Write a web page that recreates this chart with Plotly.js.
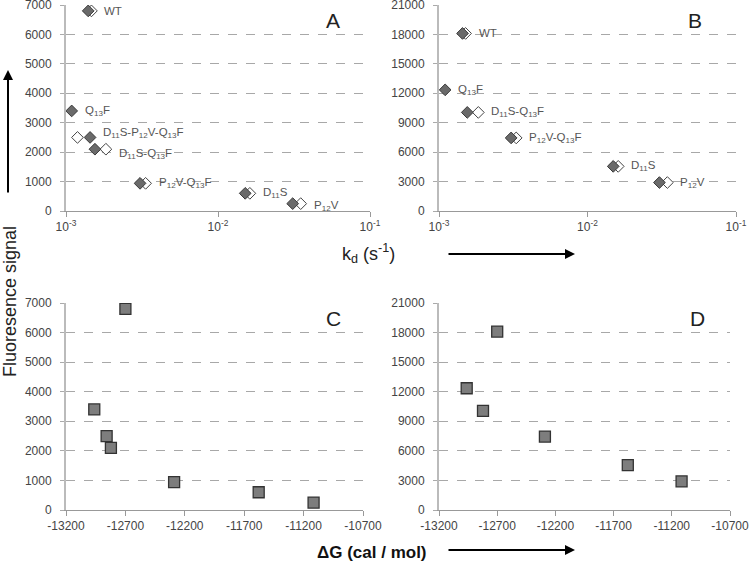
<!DOCTYPE html>
<html>
<head>
<meta charset="utf-8">
<script src="https://cdn.plot.ly/plotly-3.0.1.min.js"></script>
<style>html,body{margin:0;padding:0;background:#fff;}#chart{width:750px;height:564px;}</style>
</head>
<body>
<div id="chart"></div>
<script>
// ---- data ----
const mutants = ['WT', 'Q<sub>13</sub>F', 'D<sub>11</sub>S-P<sub>12</sub>V-Q<sub>13</sub>F', 'D<sub>11</sub>S-Q<sub>13</sub>F', 'P<sub>12</sub>V-Q<sub>13</sub>F', 'D<sub>11</sub>S', 'P<sub>12</sub>V'];
const signalA = [6800, 3400, 2500, 2100, 940, 600, 250];
const signalB = [18100, 12350, null, 10050, 7450, 4550, 2900];
const kdFilledA = [1.40e-3, 1.09e-3, 1.44e-3, 1.55e-3, 3.07e-3, 1.51e-2, 3.10e-2];
const kdOpenA   = [1.47e-3, null,    1.19e-3, 1.83e-3, 3.34e-3, 1.62e-2, 3.50e-2];
const kdFilledB = [1.44e-3, 1.10e-3, null,    1.55e-3, 3.06e-3, 1.49e-2, 3.05e-2];
const kdOpenB   = [1.51e-3, null,    null,    1.84e-3, 3.31e-3, 1.61e-2, 3.45e-2];
const deltaG    = [-12700, -12962, -12858, -12822, -12290, -11578, -11116];
const kdTicks = [0.001, 0.01, 0.1];
const kdTickText = ['10<sup>-3</sup>', '10<sup>-2</sup>', '10<sup>-1</sup>'];
const dGTicks = [-13200, -12700, -12200, -11700, -11200, -10700];
const sigTicksA = [0, 1000, 2000, 3000, 4000, 5000, 6000, 7000];
const sigTicksB = [0, 3000, 6000, 9000, 12000, 15000, 18000, 21000];

// ---- styles / label nudges (pixels) ----
const labelYShiftA = [0, 0, 4, -5, 0, 0, -2];
const FONT = 'Liberation Sans, Arial, sans-serif';
const filledDiamond = {symbol: 'diamond', size: 9, color: '#6a6a6a', line: {color: '#3a3a3a', width: 1}};
const openDiamond = {symbol: 'diamond', size: 9, color: '#ffffff', line: {color: '#444', width: 1}};
const squareMk = {symbol: 'square', size: 11, color: '#7d7d7d', line: {color: '#333', width: 1.3}};

function pts(xs, ys) {
  const x = [], y = [];
  xs.forEach((v, i) => { if (v != null && ys[i] != null) { x.push(v); y.push(ys[i]); } });
  return {x, y};
}

const traces = [];
function addKd(filled, open, sig, xa, ya) {
  const o = pts(open, sig), f = pts(filled, sig);
  traces.push({type: 'scatter', mode: 'markers', x: o.x, y: o.y, xaxis: xa, yaxis: ya, marker: openDiamond, hoverinfo: 'skip'});
  traces.push({type: 'scatter', mode: 'markers', x: f.x, y: f.y, xaxis: xa, yaxis: ya, marker: filledDiamond, hoverinfo: 'skip'});
}
addKd(kdFilledA, kdOpenA, signalA, 'x', 'y');
addKd(kdFilledB, kdOpenB, signalB, 'x2', 'y2');
const c = pts(deltaG, signalA), d = pts(deltaG, signalB);
traces.push({type: 'scatter', mode: 'markers', x: c.x, y: c.y, xaxis: 'x3', yaxis: 'y3', marker: squareMk, hoverinfo: 'skip'});
traces.push({type: 'scatter', mode: 'markers', x: d.x, y: d.y, xaxis: 'x4', yaxis: 'y4', marker: squareMk, hoverinfo: 'skip'});

const annotations = [];
function addLabels(filled, open, sig, xr, yr, yshifts) {
  mutants.forEach((m, i) => {
    if (sig[i] == null) return;
    const xs = [filled[i], open[i]].filter(v => v != null);
    if (!xs.length) return;
    annotations.push({xref: xr, yref: yr, x: Math.log10(Math.max(...xs)), y: sig[i], text: m,
      showarrow: false, xanchor: 'left', yanchor: 'middle', xshift: 11, yshift: yshifts ? yshifts[i] : 0,
      font: {family: FONT, size: 11.5, color: '#555'}});
  });
}
addLabels(kdFilledA, kdOpenA, signalA, 'x', 'y', labelYShiftA);
addLabels(kdFilledB, kdOpenB, signalB, 'x2', 'y2', null);

const letterFont = {family: FONT, size: 21, color: '#222'};
[['A', 333, 20], ['B', 695, 20], ['C', 333, 318], ['D', 697, 318]].forEach(([t, px, py]) => {
  annotations.push({xref: 'paper', yref: 'paper', x: px / 750, y: 1 - py / 564, text: t, showarrow: false,
    xanchor: 'center', yanchor: 'middle', font: letterFont});
});
annotations.push({xref: 'paper', yref: 'paper', x: 368 / 750, y: 1 - 253 / 564, text: 'k<sub>d</sub> (s<sup>-1</sup>)',
  showarrow: false, xanchor: 'center', yanchor: 'middle', font: {family: FONT, size: 18, color: '#222'}});
annotations.push({xref: 'paper', yref: 'paper', x: 372 / 750, y: 1 - 552 / 564, text: '<b>ΔG (cal / mol)</b>',
  showarrow: false, xanchor: 'center', yanchor: 'middle', font: {family: FONT, size: 17, color: '#111'}});
annotations.push({xref: 'paper', yref: 'paper', x: 10 / 750, y: 1 - 302 / 564, text: 'Fluoresence signal', textangle: -90,
  showarrow: false, xanchor: 'center', yanchor: 'middle', font: {family: FONT, size: 18, color: '#222'}});
// arrows
const arr = {text: '', showarrow: true, arrowhead: 2, arrowsize: 1, arrowwidth: 2, arrowcolor: '#000', xref: 'paper', yref: 'paper'};
annotations.push(Object.assign({}, arr, {x: 575 / 750, y: 1 - 254 / 564, ax: -128, ay: 0}));
annotations.push(Object.assign({}, arr, {x: 575 / 750, y: 1 - 550 / 564, ax: -128, ay: 0}));
annotations.push(Object.assign({}, arr, {x: 8 / 750, y: 1 - 70 / 564, ax: 0, ay: 124}));

const tickFont = {family: FONT, size: 12, color: '#444'};
function xLog(dom, anchor) {
  return {type: 'log', domain: dom, anchor: anchor, range: [-3, -1], tickmode: 'array', tickvals: kdTicks, ticktext: kdTickText,
    showgrid: false, zeroline: false, showline: true, linecolor: '#999', linewidth: 1,
    ticks: 'outside', ticklen: 5, tickcolor: '#999', tickfont: tickFont, ticklabeloverflow: 'allow'};
}
function xLin(dom, anchor) {
  return {domain: dom, anchor: anchor, range: [-13200, -10700], tickmode: 'array', tickvals: dGTicks, ticktext: dGTicks.map(String),
    showgrid: false, zeroline: false, showline: true, linecolor: '#999', linewidth: 1,
    ticks: 'outside', ticklen: 5, tickcolor: '#999', tickfont: tickFont, ticklabeloverflow: 'allow'};
}
function yAx(dom, anchor, ticks) {
  return {domain: dom, anchor: anchor, range: [0, ticks[ticks.length - 1]], tickmode: 'array', tickvals: ticks, ticktext: ticks.map(String),
    showgrid: true, gridcolor: '#a8a8a8', griddash: 'dash', gridwidth: 1, zeroline: false,
    showline: true, linecolor: '#bbb', linewidth: 2, ticks: 'outside', ticklen: 4, tickcolor: '#aaa',
    ticklabelstandoff: 6, tickfont: tickFont, ticklabeloverflow: 'allow'};
}
const topDom = [1 - 211 / 564, 1 - 5 / 564];
const botDom = [1 - 510 / 564, 1 - 303 / 564];
const layout = {
  width: 750, height: 564, margin: {l: 0, r: 0, t: 0, b: 0},
  paper_bgcolor: '#fff', plot_bgcolor: '#fff', showlegend: false,
  font: {family: FONT},
  xaxis: xLog([66 / 750, 370 / 750], 'y'),
  yaxis: yAx(topDom, 'x', sigTicksA),
  xaxis2: xLog([439 / 750, 736 / 750], 'y2'),
  yaxis2: yAx(topDom, 'x2', sigTicksB),
  xaxis3: xLin([66 / 750, 363 / 750], 'y3'),
  yaxis3: yAx(botDom, 'x3', sigTicksA),
  xaxis4: xLin([439 / 750, 730 / 750], 'y4'),
  yaxis4: yAx(botDom, 'x4', sigTicksB),
  annotations: annotations
};
Plotly.newPlot('chart', traces, layout, {staticPlot: true});
</script>
</body>
</html>
